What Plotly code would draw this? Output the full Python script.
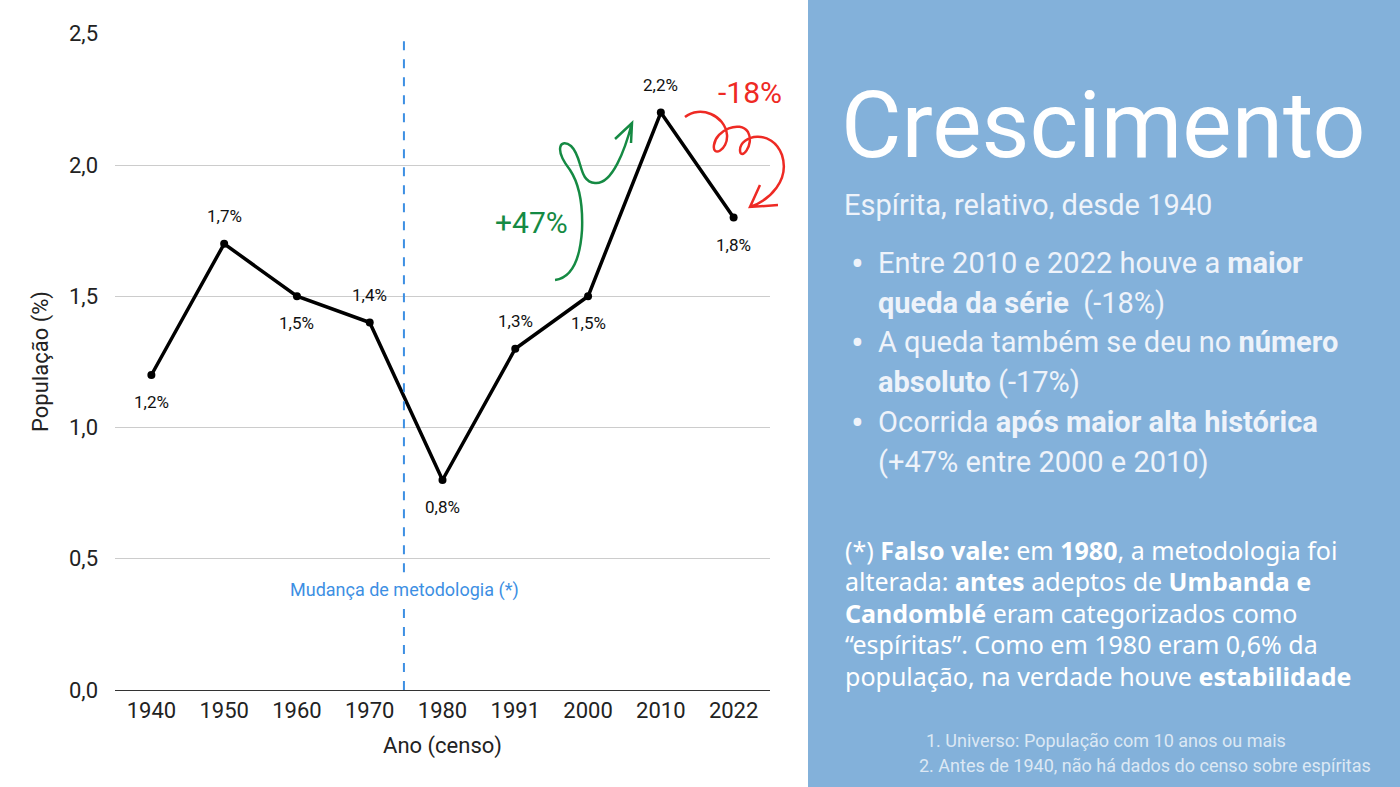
import plotly.graph_objects as go

# dados do censo (% da população espírita)
anos = ['1940', '1950', '1960', '1970', '1980', '1991', '2000', '2010', '2022']
populacao = [1.2, 1.7, 1.5, 1.4, 0.8, 1.3, 1.5, 2.2, 1.8]
rotulos = ['1,2%', '1,7%', '1,5%', '1,4%', '0,8%', '1,3%', '1,5%', '2,2%', '1,8%']
rotulo_acima = [False, True, False, True, False, True, False, True, False]
y_ticks = [0, 0.5, 1.0, 1.5, 2.0, 2.5]

W, H = 1400, 787
L, R, T, B = 115, 770, 33, 690

FONT = 'Roboto'
HAND = 'Noto Sans'


def px(x, y):
    # pixel -> paper
    return (x - L) / (R - L), (B - y) / (B - T)


def path(pts):
    out = []
    for cmd, *coords in pts:
        s = cmd
        for i in range(0, len(coords), 2):
            a, b = px(coords[i], coords[i + 1])
            s += f' {a:.4f},{b:.4f}'
        out.append(s)
    return ' '.join(out)


fig = go.Figure()
fig.add_trace(go.Scatter(
    x=anos, y=populacao,
    mode='lines+markers',
    line=dict(color='black', width=3.5),
    marker=dict(color='black', size=8),
    hoverinfo='skip',
    showlegend=False,
))

shapes = []
# painel azul
x0, y0 = px(808, H)
x1, y1 = px(W, 0)
shapes.append(dict(type='rect', xref='paper', yref='paper', x0=x0, x1=x1, y0=y0, y1=y1,
                   fillcolor='#83B1DA', line=dict(width=0), layer='below'))
# linha de mudança de metodologia
for ya, yb in [(0, 0.316), (0.449, 2.48)]:
    shapes.append(dict(type='line', xref='x', yref='y', x0=3.47, x1=3.47, y0=ya, y1=yb,
                       line=dict(color='#3D8FE3', width=2, dash='dash')))

# setas desenhadas à mão
verde = path([
    ('M', 555, 280),
    ('C', 570, 278, 580, 262, 582, 230),
    ('C', 583, 205, 580, 185, 570, 170),
    ('C', 553, 148, 561, 138, 571, 146),
    ('C', 583, 157, 578, 182, 595, 183),
    ('C', 612, 185, 625, 150, 632, 123),
    ('M', 615, 139), ('L', 632, 123), ('L', 631, 143),
])
vermelho = path([
    ('M', 685, 117),
    ('C', 700, 105, 725, 115, 727, 135),
    ('C', 728, 150, 712, 158, 714, 145),
    ('C', 716, 130, 740, 120, 748, 132),
    ('C', 755, 145, 740, 162, 740, 150),
    ('C', 740, 135, 772, 128, 782, 155),
    ('C', 790, 180, 770, 200, 750, 207),
    ('M', 760, 185), ('L', 750, 207), ('L', 778, 205),
])
shapes.append(dict(type='path', xref='paper', yref='paper', path=verde,
                   line=dict(color='#158A43', width=2.5)))
shapes.append(dict(type='path', xref='paper', yref='paper', path=vermelho,
                   line=dict(color='#EE2A24', width=2.5)))

annotations = []

# rótulos dos pontos (x pelo índice da categoria)
for i, (valor, rot, acima) in enumerate(zip(populacao, rotulos, rotulo_acima)):
    annotations.append(dict(xref='x', yref='y', x=i, y=valor, text=rot, showarrow=False,
                            yshift=28 if acima else -27,
                            font=dict(family=FONT, size=17, color='#111111')))


def texto(x, y, t, size, color, family=FONT, xanchor='left'):
    a, b = px(x, y)
    annotations.append(dict(xref='paper', yref='paper', x=a, y=b, text=t, showarrow=False,
                            xanchor=xanchor, yanchor='middle',
                            font=dict(family=family, size=size, color=color)))


texto(404, 590, 'Mudança de metodologia (*)', 18, '#3D8FE3', xanchor='center')
texto(531, 222, '+47%', 30, '#158A43', xanchor='center')
texto(750, 92, '-18%', 30, '#EE2A24', xanchor='center')

texto(839, 125, 'Crescimento', 93, '#FFFFFF')
texto(842, 205, 'Espírita, relativo, desde 1940', 29, '#EEF3FA')

claro = '#EEF3FA'
for y in [263, 342, 422]:
    texto(849, y + 1, '•', 38, claro)
linhas = [
    (263, 'Entre 2010 e 2022 houve a <b>maior</b>'),
    (303, '<b>queda da série</b>  (-18%)'),
    (342, 'A queda também se deu no <b>número</b>'),
    (382, '<b>absoluto</b> (-17%)'),
    (422, 'Ocorrida <b>após maior alta histórica</b>'),
    (462, '(+47% entre 2000 e 2010)'),
]
for y, t in linhas:
    texto(876, y, t, 29, claro)

nota = [
    (550, '(*) <b>Falso vale:</b> em <b>1980</b>, a metodologia foi'),
    (581, 'alterada: <b>antes</b> adeptos de <b>Umbanda e</b>'),
    (613, '<b>Candomblé</b> eram categorizados como'),
    (644, '“espíritas”. Como em 1980 eram 0,6% da'),
    (676, 'população, na verdade houve <b>estabilidade</b>'),
]
for y, t in nota:
    texto(843, y, t, 25, '#FFFFFF', family=HAND)

texto(924, 740, '1. Universo: População com 10 anos ou mais', 18, '#DCE8F4')
texto(917, 765, '2. Antes de 1940, não há dados do censo sobre espíritas', 18, '#DCE8F4')

fig.update_layout(
    width=W, height=H,
    margin=dict(l=L, r=W - R, t=T, b=H - B, pad=0),
    paper_bgcolor='white',
    plot_bgcolor='white',
    separators=',.',
    shapes=shapes,
    annotations=annotations,
    font=dict(family=FONT, color='#222222'),
)
fig.update_xaxes(
    type='category', range=[-0.5, 8.5],
    showgrid=False, showline=True, linecolor='#333333', linewidth=1.2,
    tickfont=dict(family=FONT, size=22, color='#222222'),
    title=dict(text='Ano (censo)', font=dict(family=FONT, size=22, color='#222222'), standoff=16),
    ticks='', fixedrange=True,
)
fig.update_yaxes(
    range=[0, 2.503], tickvals=y_ticks, tickformat='.1f',
    showgrid=True, gridcolor='#CCCCCC', gridwidth=1, zeroline=False, showline=False,
    tickfont=dict(family=FONT, size=22, color='#222222'),
    ticklabelstandoff=16,
    title=dict(text='População (%)', font=dict(family=FONT, size=22, color='#222222'), standoff=14),
    ticks='', fixedrange=True,
)

fig.write_html('out.html', config={'displayModeBar': False},
               post_script="document.body.style.margin='0px';")
